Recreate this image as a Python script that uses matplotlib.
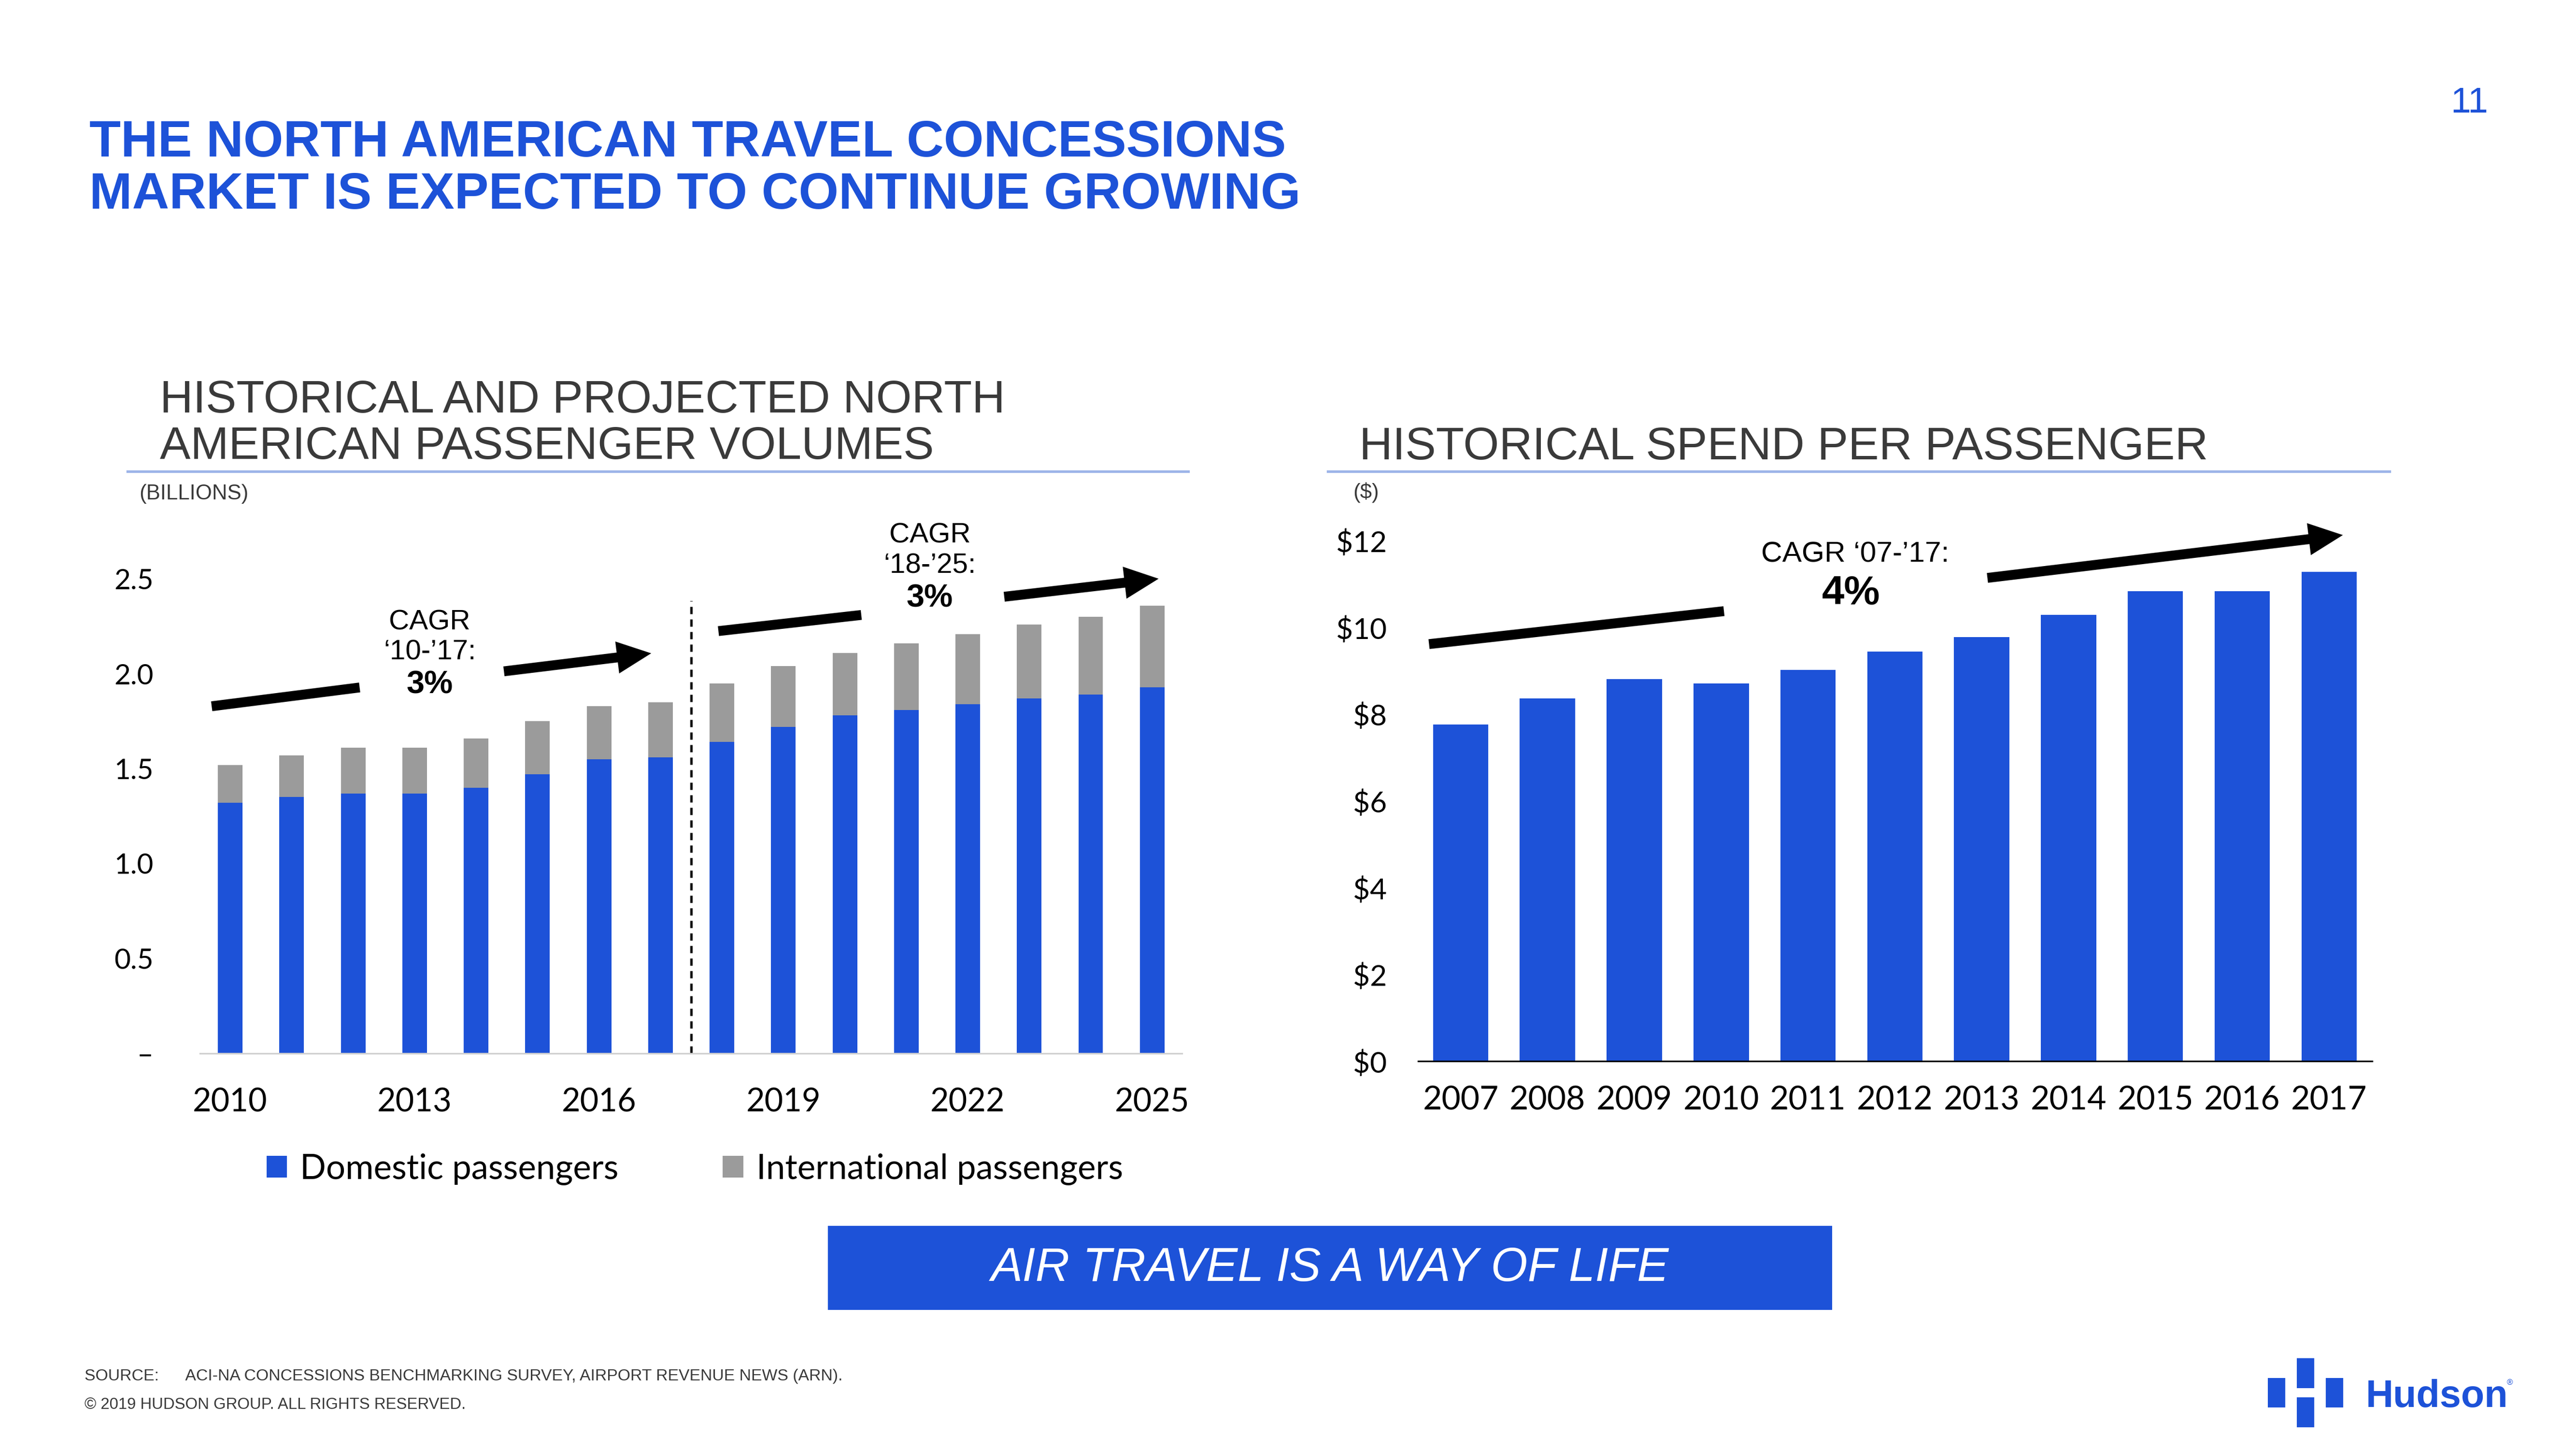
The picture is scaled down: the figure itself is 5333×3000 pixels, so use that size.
import matplotlib
matplotlib.use("Agg")
import matplotlib.pyplot as plt
from matplotlib.patches import Rectangle

# passenger volumes (billions)
pax_years = list(range(2010, 2026))
domestic = [1.32, 1.35, 1.37, 1.37, 1.40, 1.47, 1.55, 1.56,
            1.64, 1.72, 1.78, 1.81, 1.84, 1.87, 1.89, 1.93]
international = [0.20, 0.22, 0.24, 0.24, 0.26, 0.28, 0.28, 0.29,
                 0.31, 0.32, 0.33, 0.35, 0.37, 0.39, 0.41, 0.43]
pax_yticks = [0, 0.5, 1.0, 1.5, 2.0, 2.5]
pax_ytick_labels = ["\u2013", "0.5", "1.0", "1.5", "2.0", "2.5"]

# spend per passenger ($)
spend_years = list(range(2007, 2018))
spend = [7.77, 8.37, 8.82, 8.71, 9.03, 9.45, 9.78, 10.30, 10.84, 10.84, 11.29]
spend_yticks = [0, 2, 4, 6, 8, 10, 12]

BLUE = "#1D52D8"
GRAY = "#9B9B9B"
LINE_BLUE = "#9DB4E8"
DARK = "#3A3A3A"
SANS = "Liberation Sans"
NUM = "Lato"

# layout was measured on a 1555.5 x 875 copy of the slide
W, H = 1555.5, 875.0


def fx(x):
    return x / W


def fy(y):
    return 1 - y / H


def cagr_arrow(ax, p0, p1, p2, p3):
    # tail piece, gap for the label, then the arrow piece
    ax.plot([p0[0], p1[0]], [p0[1], p1[1]], color="black", lw=4.9,
            solid_capstyle="butt", clip_on=False)
    ax.annotate("", xy=p3, xytext=p2, annotation_clip=False,
                arrowprops=dict(arrowstyle="simple,head_length=0.85,head_width=0.8,tail_width=0.245",
                                color="black", mutation_scale=20, shrinkA=0, shrinkB=0, lw=0))


fig = plt.figure(figsize=(5333 / 300, 3000 / 300), dpi=300)

# headings
fig.text(fx(54), fy(94.5), "THE NORTH AMERICAN TRAVEL CONCESSIONS", color=BLUE,
         fontsize=25.5, fontweight="bold", family=SANS, va="baseline")
fig.text(fx(54), fy(125.9), "MARKET IS EXPECTED TO CONTINUE GROWING", color=BLUE,
         fontsize=25.5, fontweight="bold", family=SANS, va="baseline")
fig.text(fx(1491), fy(68), "11", color=BLUE, fontsize=18, family=SANS, ha="center", va="baseline")

fig.text(fx(96.4), fy(249), "HISTORICAL AND PROJECTED NORTH", color=DARK,
         fontsize=22.8, family=SANS, va="baseline")
fig.text(fx(96.4), fy(277), "AMERICAN PASSENGER VOLUMES", color=DARK,
         fontsize=22.8, family=SANS, va="baseline")
fig.text(fx(820.7), fy(277.3), "HISTORICAL SPEND PER PASSENGER", color=DARK,
         fontsize=22.9, family=SANS, va="baseline")
fig.add_artist(plt.Line2D([fx(77.1), fx(717.5)], [fy(284.8), fy(284.8)], color=LINE_BLUE, lw=1.3))
fig.add_artist(plt.Line2D([fx(801.7), fx(1443)], [fy(284.8), fy(284.8)], color=LINE_BLUE, lw=1.3))
fig.text(fx(84), fy(301.5), "(BILLIONS)", color=DARK, fontsize=10.5, family=SANS, va="baseline")
fig.text(fx(817), fy(301), "($)", color=DARK, fontsize=10.5, family=SANS, va="baseline")

# left chart: passenger volumes
ax1 = fig.add_axes([0.07762, 0.27303, 0.38122, 0.36674])
x1 = list(range(len(pax_years)))
b_dom = ax1.bar(x1, domestic, width=0.40, color=BLUE, label="Domestic passengers")
b_int = ax1.bar(x1, international, width=0.40, bottom=domestic, color=GRAY,
                label="International passengers")
ax1.set_xlim(-0.493, 15.485)
ax1.set_ylim(0, 2.8)
ax1.set_yticks(pax_yticks, pax_ytick_labels)
ax1.set_xticks(x1[::3], [str(y) for y in pax_years[::3]])
ax1.tick_params(axis="y", length=0, pad=23, labelsize=14)
ax1.tick_params(axis="x", length=0, pad=17, labelsize=16)
for lab in ax1.get_xticklabels() + ax1.get_yticklabels():
    lab.set_family(NUM)
for s in ["top", "right", "left"]:
    ax1.spines[s].set_visible(False)
ax1.spines["bottom"].set_color("#D0D0D0")
ax1.spines["bottom"].set_linewidth(0.8)

# historical / projected split
ax1.plot([7.5, 7.5], [0, 2.384], color="black", lw=1.2, dashes=(3, 2.2))

cagr_arrow(ax1, (-0.302, 1.829), (2.105, 1.928), (4.453, 2.013), (6.849, 2.108))
cagr_arrow(ax1, (7.943, 2.225), (10.267, 2.310), (12.593, 2.406), (15.105, 2.501))
ax1.text(3.245, 2.234, "CAGR", ha="center", va="baseline", fontsize=14, family=SANS)
ax1.text(3.245, 2.076, "\u201810-\u201917:", ha="center", va="baseline", fontsize=14, family=SANS)
ax1.text(3.245, 1.897, "3%", ha="center", va="baseline", fontsize=16, fontweight="bold", family=SANS)
ax1.text(11.383, 2.690, "CAGR", ha="center", va="baseline", fontsize=14, family=SANS)
ax1.text(11.383, 2.531, "\u201818-\u201925:", ha="center", va="baseline", fontsize=14, family=SANS)
ax1.text(11.383, 2.353, "3%", ha="center", va="baseline", fontsize=16, fontweight="bold", family=SANS)

ax1.legend(handles=[b_dom, b_int], loc="center", bbox_to_anchor=(fx(419.5), fy(706)),
           bbox_transform=fig.transFigure, ncol=2, frameon=False,
           prop={"family": NUM, "size": 17}, handlelength=0.6, handleheight=0.6,
           handletextpad=0.38, columnspacing=3.05, borderpad=0, borderaxespad=0)

# right chart: spend per passenger
ax2 = fig.add_axes([0.55050, 0.26754, 0.37036, 0.37406])
x2 = list(range(len(spend_years)))
ax2.bar(x2, spend, width=0.637, color=BLUE)
ax2.set_xlim(-0.49, 10.496)
ax2.set_ylim(0, 12.5)
ax2.set_yticks(spend_yticks, [f"${v}" for v in spend_yticks])
ax2.set_xticks(x2, [str(y) for y in spend_years])
ax2.tick_params(axis="y", length=0, pad=15.5, labelsize=14.5)
ax2.tick_params(axis="x", length=0, pad=12, labelsize=16.3)
for lab in ax2.get_xticklabels() + ax2.get_yticklabels():
    lab.set_family(NUM)
for s in ["top", "right", "left"]:
    ax2.spines[s].set_visible(False)
ax2.spines["bottom"].set_color("black")
ax2.spines["bottom"].set_linewidth(0.8)

cagr_arrow(ax2, (-0.364, 9.622), (3.032, 10.382), (6.066, 11.149), (10.159, 12.137))
ax2.text(4.541, 11.52, "CAGR \u201807-\u201917:", ha="center", va="baseline", fontsize=14.5, family=SANS)
ax2.text(4.497, 10.539, "4%", ha="center", va="baseline", fontsize=20, fontweight="bold", family=SANS)

# banner
fig.add_artist(Rectangle((fx(500), fy(791)), fx(1106.3) - fx(500), fy(740.3) - fy(791),
                         transform=fig.transFigure, color=BLUE, lw=0))
fig.text(fx(803), fy(773.4), "AIR TRAVEL IS A WAY OF LIFE", color="white", fontsize=23.5,
         fontstyle="italic", family=SANS, ha="center", va="baseline")

# footer
fig.text(fx(51), fy(833.6),
         "SOURCE:      ACI-NA CONCESSIONS BENCHMARKING SURVEY, AIRPORT REVENUE NEWS (ARN).",
         color=DARK, fontsize=8.1, family=SANS, va="baseline")
fig.text(fx(51), fy(850.7), "\u00a9 2019 HUDSON GROUP. ALL RIGHTS RESERVED.",
         color=DARK, fontsize=7.9, family=SANS, va="baseline")

# logo (measured in full-size pixels)
def logo_rect(x0, x1, y0, y1):
    fig.add_artist(Rectangle((x0 / 5333, 1 - y1 / 3000), (x1 - x0) / 5333, (y1 - y0) / 3000,
                             transform=fig.transFigure, color=BLUE, lw=0))


logo_rect(4695, 4731, 2853, 2914)
logo_rect(4755, 4791, 2812, 2874)
logo_rect(4755, 4791, 2893, 2955)
logo_rect(4815, 4851, 2853, 2914)
fig.text(4898 / 5333, 1 - 2913 / 3000, "Hudson", color=BLUE, fontsize=19, fontweight="bold",
         family=SANS, va="baseline")
fig.text(5190 / 5333, 1 - 2868 / 3000, "\u00ae", color=BLUE, fontsize=4, family=SANS, va="baseline")

fig.savefig("out.png", dpi=300, facecolor="white")
